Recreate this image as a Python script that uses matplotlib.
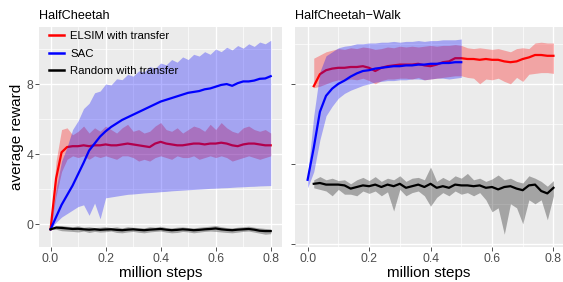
import numpy as np
import matplotlib
matplotlib.use("Agg")
import matplotlib.pyplot as plt
from matplotlib.ticker import MultipleLocator, NullFormatter

plt.rcParams['font.family'] = ['Liberation Sans', 'DejaVu Sans']

# ---- HalfCheetah (left panel) ----
steps_l = [0.00, 0.02, 0.04, 0.06, 0.08, 0.10, 0.12, 0.14, 0.16, 0.18,
           0.20, 0.22, 0.24, 0.26, 0.28, 0.30, 0.32, 0.34, 0.36, 0.38,
           0.40, 0.42, 0.44, 0.46, 0.48, 0.50, 0.52, 0.54, 0.56, 0.58,
           0.60, 0.62, 0.64, 0.66, 0.68, 0.70, 0.72, 0.74, 0.76, 0.78, 0.80]

elsim_l = [-0.30, 2.60, 4.10, 4.40, 4.45, 4.45, 4.50, 4.45, 4.50, 4.50,
           4.55, 4.50, 4.50, 4.55, 4.60, 4.55, 4.50, 4.45, 4.40, 4.60,
           4.70, 4.60, 4.55, 4.50, 4.50, 4.55, 4.60, 4.60, 4.55, 4.60,
           4.60, 4.65, 4.60, 4.50, 4.45, 4.55, 4.60, 4.60, 4.55, 4.50, 4.50]
elsim_hi_l = [-0.3, 3.6, 5.4, 5.5, 5.1, 5.3, 5.6, 5.2, 5.5, 5.3,
              5.6, 5.4, 5.2, 5.5, 5.7, 5.3, 5.4, 5.2, 5.3, 5.6,
              5.8, 5.4, 5.3, 5.5, 5.2, 5.4, 5.6, 5.5, 5.3, 5.7,
              5.4, 5.8, 5.5, 5.3, 5.2, 5.5, 5.6, 5.4, 5.3, 5.4, 5.2]
elsim_lo_l = [-0.3, 1.6, 3.0, 3.7, 3.9, 3.8, 3.9, 3.7, 3.9, 3.8,
              3.9, 3.8, 3.7, 3.9, 3.9, 3.8, 3.6, 3.7, 3.6, 3.8,
              3.9, 3.8, 3.7, 3.9, 3.8, 3.8, 3.9, 3.7, 3.8, 3.9,
              3.8, 3.9, 3.8, 3.6, 3.7, 3.8, 3.9, 3.8, 3.7, 3.8, 3.9]

sac_l = [-0.30, 0.40, 1.10, 1.65, 2.20, 2.85, 3.50, 4.20, 4.60, 5.00,
         5.30, 5.55, 5.75, 5.95, 6.10, 6.25, 6.40, 6.55, 6.70, 6.85,
         7.00, 7.10, 7.20, 7.30, 7.40, 7.50, 7.55, 7.60, 7.70, 7.75,
         7.85, 7.95, 8.00, 7.90, 8.05, 8.15, 8.15, 8.20, 8.30, 8.32, 8.45]
sac_hi_l = [-0.3, 2.0, 3.6, 4.4, 5.4, 5.9, 6.6, 6.9, 7.5, 7.6,
            8.0, 7.95, 8.3, 8.25, 8.55, 8.45, 8.75, 8.7, 9.0, 8.9,
            9.2, 9.1, 9.4, 9.25, 9.55, 9.4, 9.7, 9.6, 9.85, 9.7,
            10.0, 9.85, 10.1, 9.95, 10.2, 10.05, 10.3, 10.15, 10.4, 10.3, 10.5]
sac_lo_l = [-0.3, 0.1, 0.4, 0.6, 0.8, 1.0, 1.1, 0.5, 1.2, 0.3,
            1.5, 1.55, 1.6, 1.65, 1.7, 1.72, 1.75, 1.78, 1.8, 1.82,
            1.85, 1.87, 1.9, 1.92, 1.94, 1.96, 1.98, 2.0, 2.02, 2.04,
            2.05, 2.07, 2.08, 2.1, 2.12, 2.13, 2.15, 2.16, 2.18, 2.19, 2.2]

rand_l = [-0.30, -0.20, -0.22, -0.25, -0.28, -0.27, -0.30, -0.32, -0.30, -0.33,
          -0.31, -0.30, -0.33, -0.35, -0.32, -0.30, -0.33, -0.35, -0.32, -0.30,
          -0.28, -0.32, -0.35, -0.33, -0.30, -0.32, -0.35, -0.33, -0.30, -0.28,
          -0.25, -0.30, -0.33, -0.35, -0.32, -0.30, -0.28, -0.32, -0.38, -0.40, -0.40]
rand_hi_l = [-0.30, -0.10, -0.08, -0.12, -0.15, -0.10, -0.18, -0.15, -0.20, -0.18,
             -0.15, -0.20, -0.16, -0.22, -0.15, -0.18, -0.20, -0.22, -0.15, -0.18,
             -0.12, -0.20, -0.22, -0.18, -0.16, -0.20, -0.22, -0.18, -0.15, -0.12,
             -0.08, -0.15, -0.20, -0.22, -0.18, -0.15, -0.12, -0.18, -0.22, -0.25, -0.28]
rand_lo_l = [-0.30, -0.30, -0.38, -0.40, -0.42, -0.45, -0.40, -0.48, -0.42, -0.46,
             -0.44, -0.40, -0.48, -0.50, -0.45, -0.42, -0.47, -0.50, -0.45, -0.42,
             -0.40, -0.46, -0.50, -0.48, -0.42, -0.45, -0.50, -0.46, -0.42, -0.40,
             -0.42, -0.45, -0.48, -0.50, -0.46, -0.42, -0.40, -0.46, -0.52, -0.58, -0.55]

# ---- HalfCheetah-Walk (right panel), unlabelled y scale ----
steps_r = [0.02, 0.04, 0.06, 0.08, 0.10, 0.12, 0.14, 0.16, 0.18, 0.20,
           0.22, 0.24, 0.26, 0.28, 0.30, 0.32, 0.34, 0.36, 0.38, 0.40,
           0.42, 0.44, 0.46, 0.48, 0.50, 0.52, 0.54, 0.56, 0.58, 0.60,
           0.62, 0.64, 0.66, 0.68, 0.70, 0.72, 0.74, 0.76, 0.78, 0.80]

elsim_r = [1.97, 2.12, 2.17, 2.19, 2.20, 2.20, 2.21, 2.21, 2.22, 2.20,
           2.16, 2.20, 2.22, 2.23, 2.24, 2.24, 2.24, 2.25, 2.23, 2.22,
           2.24, 2.27, 2.28, 2.32, 2.32, 2.31, 2.31, 2.30, 2.31, 2.30,
           2.30, 2.28, 2.27, 2.28, 2.31, 2.33, 2.36, 2.36, 2.35, 2.35]
elsim_hi_r = [2.32, 2.36, 2.40, 2.42, 2.44, 2.43, 2.45, 2.44, 2.46, 2.45,
              2.43, 2.44, 2.46, 2.45, 2.47, 2.46, 2.47, 2.46, 2.47, 2.48,
              2.47, 2.48, 2.48, 2.49, 2.48, 2.45, 2.44, 2.45, 2.44, 2.43,
              2.44, 2.42, 2.40, 2.44, 2.45, 2.44, 2.51, 2.52, 2.51, 2.51]
elsim_lo_r = [1.95, 1.97, 2.00, 2.03, 2.05, 2.04, 2.06, 2.05, 2.07, 2.04,
              2.00, 2.04, 2.06, 2.06, 2.07, 2.07, 2.06, 2.08, 2.05, 2.06,
              2.07, 2.08, 2.09, 2.10, 2.10, 2.08, 2.07, 2.00, 2.06, 2.05,
              2.07, 2.03, 2.00, 2.08, 2.03, 2.12, 2.13, 2.14, 2.14, 2.13]

steps_r_sac = [0.00, 0.02, 0.04, 0.06, 0.08, 0.10, 0.12, 0.14, 0.16, 0.18,
               0.20, 0.22, 0.24, 0.26, 0.28, 0.30, 0.32, 0.34, 0.36, 0.38,
               0.40, 0.42, 0.44, 0.46, 0.48, 0.50]
sac_r = [0.80, 1.20, 1.65, 1.85, 1.94, 2.00, 2.04, 2.09, 2.13, 2.16,
         2.17, 2.19, 2.20, 2.21, 2.22, 2.22, 2.23, 2.23, 2.24, 2.24,
         2.25, 2.25, 2.26, 2.26, 2.27, 2.27]
sac_hi_r = [0.85, 1.60, 2.15, 2.35, 2.40, 2.45, 2.47, 2.48, 2.50, 2.50,
            2.51, 2.51, 2.52, 2.52, 2.53, 2.52, 2.53, 2.53, 2.54, 2.53,
            2.54, 2.54, 2.55, 2.55, 2.55, 2.56]
sac_lo_r = [0.70, 0.90, 1.30, 1.60, 1.72, 1.82, 1.88, 1.92, 1.95, 1.98,
            2.00, 2.02, 2.03, 2.04, 2.04, 2.05, 2.05, 2.06, 2.06, 2.05,
            2.06, 2.07, 2.07, 2.06, 2.07, 2.08]

rand_r = [0.75, 0.76, 0.74, 0.74, 0.74, 0.73, 0.69, 0.71, 0.73, 0.72,
          0.74, 0.71, 0.74, 0.72, 0.75, 0.70, 0.72, 0.74, 0.71, 0.75,
          0.70, 0.72, 0.70, 0.74, 0.73, 0.73, 0.72, 0.73, 0.70, 0.71,
          0.68, 0.71, 0.72, 0.69, 0.67, 0.73, 0.74, 0.66, 0.63, 0.70]
rand_hi_r = [0.80, 0.84, 0.80, 0.82, 0.79, 0.80, 0.75, 0.80, 0.83, 0.79,
             0.84, 0.78, 0.82, 0.80, 0.85, 0.78, 0.82, 0.83, 0.80, 0.96,
             0.78, 0.83, 0.79, 0.85, 0.82, 0.88, 0.80, 0.82, 0.78, 0.81,
             0.86, 0.80, 0.82, 0.78, 0.76, 0.85, 0.82, 0.78, 0.72, 0.79]
rand_lo_r = [0.70, 0.68, 0.66, 0.60, 0.68, 0.62, 0.62, 0.60, 0.66, 0.63,
             0.66, 0.60, 0.65, 0.41, 0.68, 0.60, 0.64, 0.66, 0.60, 0.47,
             0.58, 0.64, 0.60, 0.66, 0.62, 0.64, 0.60, 0.64, 0.55, 0.40,
             0.45, 0.12, 0.50, 0.45, 0.25, 0.55, 0.50, 0.55, 0.30, 0.60]

labels = ["ELSIM with transfer", "SAC", "Random with transfer"]
colors = ["#FF0000", "#0000FF", "#000000"]

PANEL = "#EBEBEB"
W, H = 563, 282


def style_axes(ax, xlim, ylim, ymajor, show_ylabels=True):
    ax.set_facecolor(PANEL)
    for s in ax.spines.values():
        s.set_visible(False)
    ax.set_xlim(*xlim)
    ax.set_ylim(*ylim)
    ax.xaxis.set_major_locator(MultipleLocator(0.2))
    ax.xaxis.set_minor_locator(MultipleLocator(0.1))
    ax.yaxis.set_major_locator(MultipleLocator(ymajor))
    ax.yaxis.set_minor_locator(MultipleLocator(ymajor / 2))
    ax.xaxis.set_major_formatter(plt.FuncFormatter(lambda v, p: "%.1f" % v))
    ax.grid(which="major", color="white", linewidth=1.0)
    ax.grid(which="minor", color="white", linewidth=0.5)
    ax.set_axisbelow(True)
    ax.tick_params(which="major", direction="out", length=2.7, width=0.6,
                   color="#333333", labelcolor="#4D4D4D", labelsize=8.8, pad=1.5)
    ax.tick_params(which="minor", length=0)
    if not show_ylabels:
        ax.yaxis.set_major_formatter(NullFormatter())
    ax.set_xlabel("million steps", fontsize=11, labelpad=1)


def draw(ax, x, mean, lo, hi, color, label, z):
    # ribbon then line, each series stacked above the previous one
    ax.fill_between(x, lo, hi, color=color, alpha=0.3, linewidth=0, zorder=z)
    ax.plot(x, mean, color=color, linewidth=1.6, label=label, zorder=z + 1)


fig = plt.figure(figsize=(W / 100, H / 100), dpi=100)
fig.patch.set_facecolor("white")

ax1 = fig.add_axes([39 / W, 1 - 247 / H, 243 / W, 220 / H])
ax2 = fig.add_axes([295 / W, 1 - 247 / H, 268 / W, 220 / H])

style_axes(ax1, (-0.042, 0.841), (-1.31, 11.26), 4)
draw(ax1, steps_l, elsim_l, elsim_lo_l, elsim_hi_l, colors[0], labels[0], 2)
draw(ax1, steps_l, sac_l, sac_lo_l, sac_hi_l, colors[1], labels[1], 4)
draw(ax1, steps_l, rand_l, rand_lo_l, rand_hi_l, colors[2], labels[2], 6)
ax1.set_ylabel("average reward", fontsize=11, labelpad=2)
ax1.set_title("HalfCheetah", loc="left", fontsize=9.1, pad=6)

style_axes(ax2, (-0.041, 0.831), (-0.04, 2.71), 1, show_ylabels=False)
draw(ax2, steps_r, elsim_r, elsim_lo_r, elsim_hi_r, colors[0], labels[0], 2)
draw(ax2, steps_r_sac, sac_r, sac_lo_r, sac_hi_r, colors[1], labels[1], 4)
draw(ax2, steps_r, rand_r, rand_lo_r, rand_hi_r, colors[2], labels[2], 6)
ax2.set_title("HalfCheetah\u2212Walk", loc="left", fontsize=9.1, pad=6)

leg = ax1.legend(loc="upper left", bbox_to_anchor=(0.03, 0.99), frameon=False,
                 fontsize=8.2, handlelength=1.35, handletextpad=0.55,
                 labelspacing=0.62, borderaxespad=0, borderpad=0.2)
leg.set_zorder(10)
for line in leg.get_lines():
    line.set_linewidth(1.8)

fig.savefig("out.png", dpi=100, facecolor="white")
